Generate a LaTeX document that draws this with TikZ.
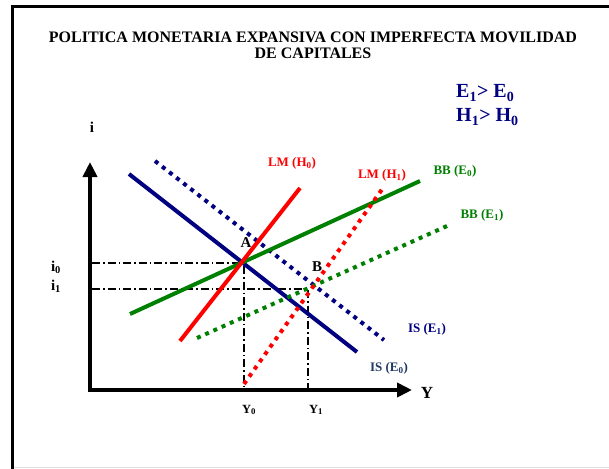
\documentclass[tikz,border=0pt]{standalone}
\usepackage{fontspec}
\setmainfont{Liberation Serif}
\usetikzlibrary{arrows.meta}
\definecolor{navy}{RGB}{0,0,128}
\definecolor{isblue}{RGB}{31,56,100}
\definecolor{ggreen}{RGB}{0,128,0}
\definecolor{rred}{RGB}{255,0,0}
\begin{document}
\begin{tikzpicture}[x=1pt,y=-1pt,
  frameline/.style={line width=3.5pt,black},
  axisline/.style={line width=4pt,black,line join=miter,
     {Triangle[length=15pt,width=14pt]}-{Triangle[length=15pt,width=14pt]}},
  curve/.style={line width=4pt},
  dotcurve/.style={line width=4pt,dash pattern=on 4pt off 5pt},
  guide/.style={line width=1.3pt,black,dash pattern=on 8pt off 3pt on 1.5pt off 3pt},
  lbl/.style={font=\bfseries\fontsize{13}{15}\selectfont,inner sep=0pt},
  axlbl/.style={font=\bfseries\fontsize{15}{17}\selectfont,inner sep=0pt},
  ticklbl/.style={font=\bfseries\fontsize{12.5}{14}\selectfont,inner sep=0pt},
  ptlbl/.style={font=\bfseries\fontsize{15}{17}\selectfont,inner sep=0pt}]
\useasboundingbox (0,0) rectangle (609,468);
% frame
\coordinate (fTR) at (611,6.5);
\coordinate (fTL) at (12.5,6.5);
\coordinate (fBL) at (12.5,470);
\coordinate (gL) at (14,467);
\coordinate (gR) at (609,467);
\draw[frameline] (fTR) -- (fTL) -- (fBL);
\draw[line width=1pt,black!12] (gL) -- (gR);
% title
\node[font=\bfseries\fontsize{16}{16}\selectfont,align=center] (title) at (313,45)
  {POLITICA MONETARIA EXPANSIVA CON IMPERFECTA MOVILIDAD\\DE CAPITALES};
\node[font=\bfseries\fontsize{20}{24}\selectfont,text=navy,align=left,anchor=west,inner sep=0pt] (cond) at (456,105)
  {E\textsubscript{1}> E\textsubscript{0}\\H\textsubscript{1}> H\textsubscript{0}};
% key points
\coordinate (O) at (90,390);
\coordinate (ytip) at (90,162);
\coordinate (xtip) at (412,390);
\coordinate (A) at (244,263);
\coordinate (B) at (308,289);
\coordinate (i0s) at (92,263);
\coordinate (i1s) at (92,289);
\coordinate (Y0s) at (244,390);
\coordinate (Y1s) at (308,390);
% guides
\draw[guide] (i0s) -- (A) -- (Y0s);
\draw[guide] (i1s) -- (B) -- (Y1s);
% curve endpoints
\coordinate (is0a) at (129,174);  \coordinate (is0b) at (357,352);
\coordinate (is1a) at (155,161);  \coordinate (is1b) at (384,340);
\coordinate (lm0a) at (180,341);  \coordinate (lm0b) at (300,188);
\coordinate (lm1a) at (244,384);  \coordinate (lm1b) at (383,188);
\coordinate (bb0a) at (130,314);  \coordinate (bb0b) at (420,181);
\coordinate (bb1a) at (197,338);  \coordinate (bb1b) at (447,226);
% curves
\draw[curve,navy] (is0a) -- (is0b);
\draw[dotcurve,navy] (is1a) -- (is1b);
\draw[curve,ggreen] (bb0a) -- (bb0b);
\draw[dotcurve,ggreen] (bb1a) -- (bb1b);
\draw[curve,rred] (lm0a) -- (lm0b);
\draw[dotcurve,rred] (lm1a) -- (lm1b);
% axes
\draw[axisline] (ytip) -- (O) -- (xtip);
% labels
\node[axlbl] (ilbl) at (92,127) {i};
\node[font=\bfseries\fontsize{17}{19}\selectfont,inner sep=0pt] (Ylbl) at (427,393) {Y};
\node[axlbl] (i0lbl) at (56,267) {i\textsubscript{0}};
\node[axlbl] (i1lbl) at (56,286) {i\textsubscript{1}};
\node[ticklbl] (Y0lbl) at (249,410) {Y\textsubscript{0}};
\node[ticklbl] (Y1lbl) at (316,410) {Y\textsubscript{1}};
\node[ptlbl] (Albl) at (246,243) {A};
\node[ptlbl] (Blbl) at (317,267) {B};
\node[lbl,text=rred] (lm0lbl) at (292,163) {LM (H\textsubscript{0})};
\node[lbl,text=rred] (lm1lbl) at (382,175) {LM (H\textsubscript{1})};
\node[lbl,text=ggreen] (bb0lbl) at (455,171) {BB (E\textsubscript{0})};
\node[lbl,text=ggreen] (bb1lbl) at (482,215) {BB (E\textsubscript{1})};
\node[lbl,text=navy] (is1lbl) at (427,329) {IS (E\textsubscript{1})};
\node[lbl,text=isblue] (is0lbl) at (389,368) {IS (E\textsubscript{0})};
\end{tikzpicture}
\end{document}
